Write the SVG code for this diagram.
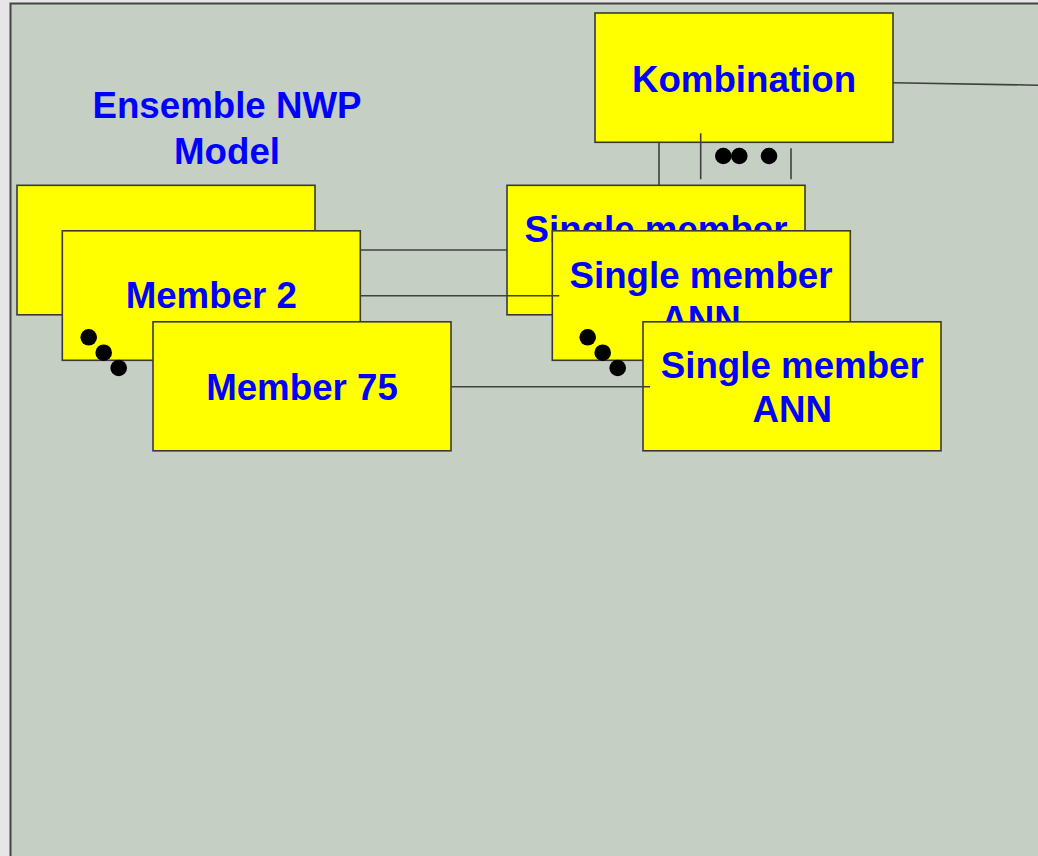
<svg xmlns="http://www.w3.org/2000/svg" width="1038" height="856" viewBox="0 0 1038 856">
<style>
.box{fill:#ffff00;stroke:#3a3a3a;stroke-width:1.6}
.t{font-family:"Liberation Sans",Arial,sans-serif;font-weight:bold;font-size:36.7px;fill:#0000ff;text-anchor:middle}
.c{stroke:#404040;stroke-width:1.6;fill:none}
.dot{fill:#000}
</style>
<rect x="0" y="0" width="1038" height="856" fill="#e6e6e6"/>
<rect id="panel" x="10.5" y="3.5" width="1040" height="870" fill="#c5cfc4" stroke="#444" stroke-width="2"/>
<g id="title"><text class="t" x="227" y="118">Ensemble NWP</text><text class="t" x="227" y="163.5">Model</text></g>
<g id="connectors-back">
<line class="c" x1="315" y1="250" x2="507" y2="250"/>
<line class="c" x1="659" y1="142" x2="659" y2="185"/>
</g>
<g id="kombination"><rect class="box" x="595" y="13" width="298" height="129.3"/><text class="t" x="744" y="92">Kombination</text></g>
<g id="member1"><rect class="box" x="17" y="185.3" width="298" height="129.5"/></g>
<g id="member2"><rect class="box" x="62.3" y="230.8" width="298" height="129.5"/><text class="t" x="211.3" y="308.3">Member 2</text></g>
<g id="dots-members"><circle class="dot" cx="88.7" cy="337.3" r="8.3"/><circle class="dot" cx="103.7" cy="352.7" r="8.3"/><circle class="dot" cx="118.7" cy="368" r="8.3"/></g>
<g id="member75"><rect class="box" x="153" y="321.8" width="298" height="129"/><text class="t" x="302" y="400">Member 75</text></g>
<g id="ann1"><rect class="box" x="507" y="185.3" width="298" height="129.5"/><text class="t" x="656" y="242">Single member</text><text class="t" x="656" y="286">ANN</text></g>
<g id="ann2"><rect class="box" x="552.3" y="230.8" width="298" height="129.5"/><text class="t" x="701" y="287.5">Single member</text><text class="t" x="701" y="331.5">ANN</text></g>
<g id="dots-ann"><circle class="dot" cx="587.7" cy="337.3" r="8.3"/><circle class="dot" cx="602.7" cy="352.7" r="8.3"/><circle class="dot" cx="617.7" cy="368" r="8.3"/></g>
<g id="ann3"><rect class="box" x="643" y="321.8" width="298" height="129"/><text class="t" x="792.3" y="377.7">Single member</text><text class="t" x="792.3" y="421.7">ANN</text></g>
<g id="connectors">
<line class="c" x1="360.5" y1="295.7" x2="559.3" y2="295.7"/>
<line class="c" x1="451" y1="386.7" x2="650" y2="386.7"/>
<line class="c" x1="700.7" y1="133.3" x2="700.7" y2="179.3"/>
<line class="c" x1="791" y1="148.3" x2="791" y2="179.3"/>
<line class="c" x1="893" y1="82.7" x2="1038" y2="85.2"/>
</g>
<g id="dots-comb"><circle class="dot" cx="723.3" cy="156" r="8.3"/><circle class="dot" cx="739.3" cy="156" r="8.3"/><circle class="dot" cx="769" cy="156" r="8.3"/></g>
</svg>
